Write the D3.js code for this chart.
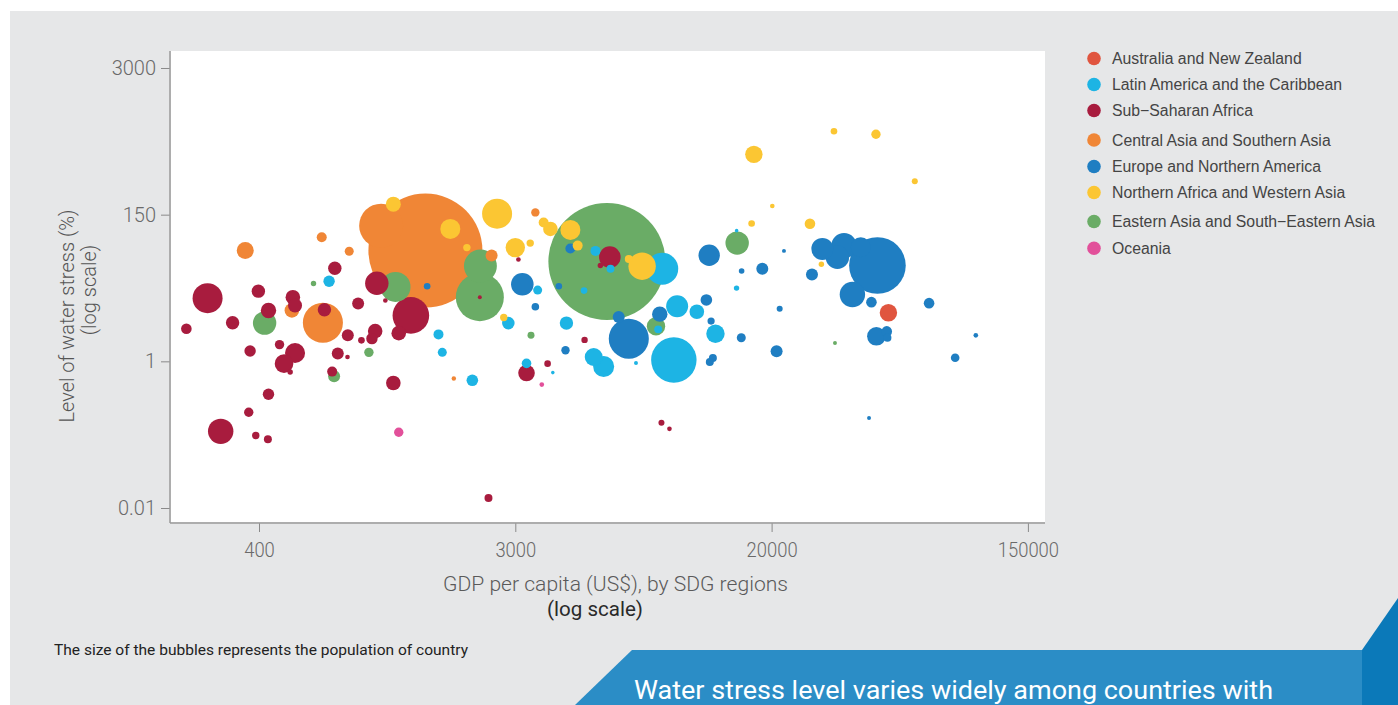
<!DOCTYPE html>
<html>
<head>
<meta charset="utf-8">
<script src="https://cdn.jsdelivr.net/npm/d3@7"></script>
<style>
  body { margin: 0; background: #ffffff; }
  svg { display: block; }
</style>
</head>
<body>
<svg id="chart" width="1398" height="705"></svg>
<script>
// ---------------- DATA ----------------
// Each point: [GDP per capita (US$), level of water stress (%), population (millions)]
const regionNames = [
  "Australia and New Zealand",
  "Latin America and the Caribbean",
  "Sub\u2212Saharan Africa",
  "Central Asia and Southern Asia",
  "Europe and Northern America",
  "Northern Africa and Western Asia",
  "Eastern Asia and South\u2212Eastern Asia",
  "Oceania"
];
const regionColors = ["#e0553f", "#1db4e4", "#a81c3e", "#f08636", "#1f7ec2", "#fbc633", "#6aac66", "#e2509a"];

const australiaNewZealand = [[50100, 5.26, 31]];

const latinAmerica = [
  [694, 15.4, 13.3], [3540, 11.4, 8.3], [2840, 3.69, 16.2], [1640, 2.51, 10.2],
  [1690, 1.36, 8.3], [2140, 0.551, 13.8], [4380, 3.69, 18.4], [5360, 1.16, 33],
  [5770, 0.85, 45], [3260, 0.939, 9.4], [3960, 0.702, 1.3], [4990, 11.2, 4.5],
  [5430, 43.5, 10.2], [6070, 23.6, 6.5], [8900, 23.6, 105], [9700, 1.045, 211],
  [9940, 6.56, 49.5], [8640, 2.98, 6.5], [11500, 5.44, 21.8], [13200, 2.57, 34.6],
  [7330, 0.948, 1.6], [15440, 86.9, 1.3], [15430, 12.2, 3.0]
];

const subSaharanAfrica = [
  [267, 8.65, 92], [296, 0.111, 66], [1320, 4.80, 137], [1010, 14.4, 56],
  [726, 24.1, 18.4], [398, 11.0, 18.4], [522, 8.95, 21.8], [531, 6.75, 20],
  [431, 5.69, 24.3], [325, 3.74, 18.4], [226, 3.05, 11.5], [669, 5.83, 18.4],
  [872, 7.22, 14.7], [1080, 8.0, 2.2], [1200, 2.62, 21.8], [997, 2.81, 21.8],
  [972, 2.17, 13.3], [804, 2.43, 14.7], [895, 2.05, 4.5], [373, 1.42, 13.3],
  [470, 1.77, 9.0], [531, 1.33, 41], [487, 0.93, 35.4], [511, 0.715, 3.0],
  [743, 1.31, 14.7], [802, 1.16, 2.2], [711, 0.724, 10.2], [1150, 0.507, 21.8],
  [431, 0.356, 13.3], [369, 0.202, 9.0], [390, 0.0975, 5.6], [429, 0.0868, 6.5],
  [2270, 8.95, 1.6], [3070, 32.4, 2.2], [5010, 2.08, 4.2], [3260, 0.693, 28.2],
  [3810, 0.93, 4.5], [6040, 35.2, 47.7], [5630, 26.4, 3.0], [8850, 0.145, 3.7],
  [9390, 0.12, 2.2], [2430, 0.0137, 6.5]
];

const centralSouthernAsia = [
  [1480, 44.0, 1330], [1045, 103, 198], [661, 3.74, 164], [359, 44.0, 29.6],
  [655, 69.2, 10.2], [813, 42.9, 8.3], [518, 5.69, 21.8], [3480, 157, 7.2],
  [2490, 37.1, 14.7], [1850, 0.583, 2.0]
];

const europeNorthAmerica = [
  [1500, 13.0, 4.5], [3160, 13.9, 52], [3480, 6.45, 5.9], [4350, 1.46, 7.2],
  [4140, 13.0, 4.5], [4510, 47.1, 10.2], [12600, 37.5, 46.8], [6450, 4.53, 14.7],
  [6950, 2.17, 164], [8740, 5.01, 24.3], [12340, 8.14, 13.8], [12780, 3.95, 5.3],
  [12950, 1.12, 6.5], [12660, 0.978, 6.5], [16020, 21.9, 3.2], [18670, 23.6, 14.7],
  [15980, 2.24, 8.3], [22040, 43.5, 1.6], [29810, 46.6, 49.5], [35340, 52.1, 66],
  [33550, 35.0, 56], [40300, 49.2, 41], [45960, 26.4, 328], [37750, 9.82, 66],
  [43840, 7.55, 11.5], [27470, 19.4, 14.7], [21310, 6.03, 3.7], [68980, 7.30, 11.5],
  [45580, 2.35, 35.4], [49450, 2.78, 11.5], [49720, 2.24, 6.5], [20800, 1.41, 14.7],
  [99600, 2.43, 2.2], [84670, 1.13, 7.6], [43020, 0.169, 1.6]
];

const northAfricaWesternAsia = [
  [2600, 153, 92], [1800, 92.1, 41], [1150, 186, 23], [2050, 48.7, 5.6],
  [3700, 115, 10.2], [3890, 92.1, 21.8], [4510, 89.1, 41], [4760, 52.1, 10.2],
  [3000, 48.7, 38.5], [3350, 56.8, 5.6], [2740, 4.48, 5.6], [6950, 33.1, 6.5],
  [7670, 25.8, 76.8], [17250, 111, 4.5], [32660, 824, 4.5], [45430, 775, 9.0],
  [17540, 514, 31], [61650, 297, 3.7], [20110, 179, 2.2], [27040, 110, 11.5],
  [29580, 27.6, 3.0]
];

const easternSouthEasternAsia = [
  [5910, 30.2, 1400], [2270, 8.95, 236], [2280, 25.9, 111], [1170, 12.7, 92],
  [418, 3.69, 56], [614, 14.3, 3.0], [949, 1.36, 9.0], [722, 0.625, 14.7],
  [3370, 2.43, 5.0], [15500, 56.8, 56], [8500, 3.32, 34.6], [32920, 1.87, 1.6]
];

const oceania = [[1200, 0.108, 9.0], [3650, 0.482, 2.2]];

const xTickValues = [400, 3000, 20000, 150000];
const yTickValues = [0.01, 1, 150, 3000];

// ---------------- LAYOUT ----------------
const W = 1398, H = 705;
const plot = { left: 171, right: 1045, top: 51, bottom: 522 };
const svg = d3.select("#chart");

// grey panel
svg.append("rect").attr("x", 10).attr("y", 11).attr("width", W - 10).attr("height", H - 11).attr("fill", "#e6e7e8");
// white plot area
svg.append("rect").attr("x", plot.left).attr("y", plot.top)
  .attr("width", plot.right - plot.left).attr("height", plot.bottom - plot.top).attr("fill", "#ffffff");

// scales (ticks equally spaced as in the original figure)
const xTickPos = xTickValues.map((d, i) => 259 + i * 256.3);
const yTickPos = yTickValues.map((d, i) => 508 - i * 146.67);
const x = d3.scaleLog().domain(xTickValues).range(xTickPos);
const y = d3.scaleLog().domain(yTickValues).range(yTickPos);
const r = d3.scaleSqrt().domain([0, 1400]).range([0, 58.5]);

// bubbles
const groups = [australiaNewZealand, latinAmerica, subSaharanAfrica, centralSouthernAsia,
  europeNorthAmerica, northAfricaWesternAsia, easternSouthEasternAsia, oceania];
const points = [];
groups.forEach((g, gi) => g.forEach(p => points.push({ gdp: p[0], stress: p[1], pop: p[2], region: gi })));
points.sort((a, b) => b.pop - a.pop);

svg.append("g").selectAll("circle").data(points).join("circle")
  .attr("cx", d => x(d.gdp))
  .attr("cy", d => y(d.stress))
  .attr("r", d => r(d.pop))
  .attr("fill", d => regionColors[d.region]);

// axes
const yAxis = svg.append("g").attr("transform", `translate(${plot.left - 1},0)`)
  .call(d3.axisLeft(y).tickValues(yTickValues).tickFormat(d => String(d)).tickSize(9).tickPadding(5).tickSizeOuter(0));
yAxis.select(".domain").remove();
yAxis.selectAll("line").attr("stroke", "#8a8a8a");
yAxis.selectAll("text").attr("font-family", "Roboto").attr("font-weight", 300)
  .attr("font-size", 20).attr("fill", "#6a6a6a");

const xAxis = svg.append("g").attr("transform", `translate(0,${plot.bottom + 1})`)
  .call(d3.axisBottom(x).tickValues(xTickValues).tickFormat(d => String(d)).tickSize(9).tickPadding(11).tickSizeOuter(0));
xAxis.select(".domain").remove();
xAxis.selectAll("line").attr("stroke", "#8a8a8a");
xAxis.selectAll("text").attr("font-family", "Roboto").attr("font-weight", 300)
  .attr("font-size", 20).attr("fill", "#6a6a6a").attr("transform", "scale(0.92,1)");

// axis lines
svg.append("line").attr("x1", plot.left - 1).attr("x2", plot.left - 1).attr("y1", plot.top).attr("y2", plot.bottom + 1)
  .attr("stroke", "#9a9a9a").attr("stroke-width", 1.5);
svg.append("line").attr("x1", plot.left - 1).attr("x2", plot.right).attr("y1", plot.bottom + 1).attr("y2", plot.bottom + 1)
  .attr("stroke", "#9a9a9a").attr("stroke-width", 1.5);

// axis titles
svg.append("text").attr("transform", "translate(74,316) rotate(-90)").attr("text-anchor", "middle")
  .attr("font-family", "Roboto").attr("font-weight", 300).attr("font-size", 20).attr("fill", "#555")
  .text("Level of water stress (%)");
svg.append("text").attr("transform", "translate(96,290) rotate(-90)").attr("text-anchor", "middle")
  .attr("font-family", "Roboto").attr("font-weight", 300).attr("font-size", 20).attr("fill", "#555")
  .text("(log scale)");
svg.append("text").attr("x", 443).attr("y", 591)
  .attr("font-family", "Roboto").attr("font-weight", 300).attr("font-size", 20).attr("fill", "#5a5a5a")
  .attr("textLength", 345).attr("lengthAdjust", "spacingAndGlyphs")
  .text("GDP per capita (US$), by SDG regions");
svg.append("text").attr("x", 547).attr("y", 616)
  .attr("font-family", "Roboto").attr("font-size", 20).attr("fill", "#2a2a2a")
  .attr("textLength", 96).attr("lengthAdjust", "spacingAndGlyphs")
  .text("(log scale)");

// legend
const legend = svg.append("g").selectAll("g").data(regionNames).join("g")
  .attr("transform", (d, i) => `translate(1094,${[58.5, 84.5, 110.5, 140, 166.5, 192.5, 221.5, 248.3][i]})`);
legend.append("circle").attr("r", 6.8).attr("fill", (d, i) => regionColors[i]);
legend.append("text").attr("x", 18).attr("dy", "0.36em")
  .attr("font-family", "Liberation Sans, Arial, sans-serif").attr("font-size", 15.8).attr("fill", "#444")
  .text(d => d);

// footnote
svg.append("text").attr("x", 54).attr("y", 655)
  .attr("font-family", "Roboto").attr("font-size", 15.5).attr("fill", "#222")
  .attr("textLength", 414).attr("lengthAdjust", "spacingAndGlyphs")
  .text("The size of the bubbles represents the population of country");

// banner
svg.append("polygon").attr("points", "575,705 632,650 1362,650 1362,705").attr("fill", "#2b8dc6");
svg.append("polygon").attr("points", "1362,705 1362,650 1398,598 1398,705").attr("fill", "#0b79b9");
svg.append("text").attr("x", 634).attr("y", 698.5)
  .attr("font-family", "Roboto").attr("font-size", 25).attr("fill", "#ffffff")
  .attr("textLength", 639).attr("lengthAdjust", "spacingAndGlyphs")
  .text("Water stress level varies widely among countries with");
</script>
</body>
</html>
